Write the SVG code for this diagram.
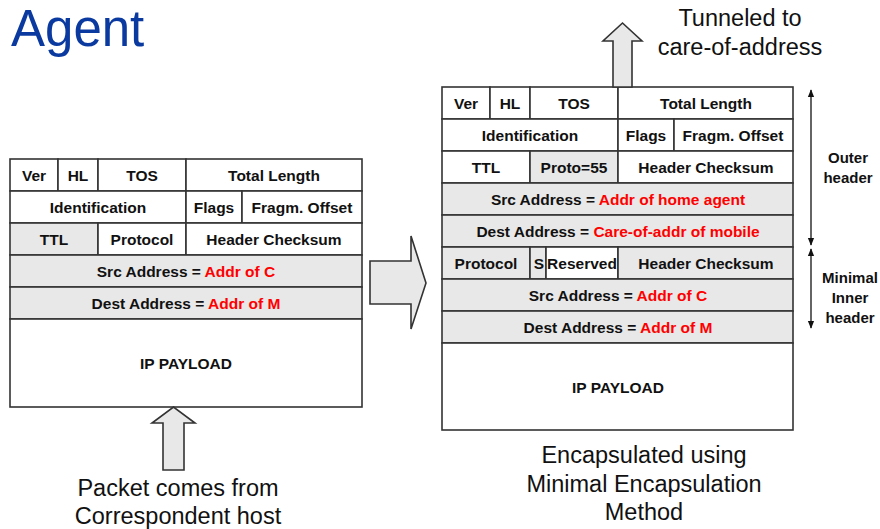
<svg xmlns="http://www.w3.org/2000/svg" width="880" height="529" viewBox="0 0 880 529">
<defs>
<style>
.c{stroke:#333;stroke-width:1.6;fill:#fff}
.g{stroke:#333;stroke-width:1.6;fill:#e8e8e8}
.t{font-family:"Liberation Sans",Arial,sans-serif;font-weight:bold;font-size:15.5px;fill:#111;text-anchor:middle}
.r{fill:#ff0000}
.l{font-family:"Liberation Sans",Arial,sans-serif;font-size:23.5px;fill:#111;text-anchor:middle}
.s{font-family:"Liberation Sans",Arial,sans-serif;font-weight:bold;font-size:15px;fill:#111;text-anchor:middle}
.ba{stroke:#333;stroke-width:1.6;fill:#e8e8e8;stroke-linejoin:miter}
</style>
<marker id="ah" viewBox="0 0 10 10" refX="9" refY="5" markerWidth="8" markerHeight="8" orient="auto-start-reverse" markerUnits="userSpaceOnUse">
<path d="M0,1 L10,5 L0,9 Z" fill="#111"/>
</marker>
</defs>
<rect width="880" height="529" fill="#fff"/>
<text x="11" y="46" font-family="'Liberation Sans',Arial,sans-serif" font-size="51" fill="#0a3aa0">Agent</text>

<g id="original-packet">
<rect class="c" x="10" y="159" width="48" height="32"/>
<rect class="c" x="58" y="159" width="40" height="32"/>
<rect class="c" x="98" y="159" width="88" height="32"/>
<rect class="c" x="186" y="159" width="176" height="32"/>
<rect class="c" x="10" y="191" width="176" height="32"/>
<rect class="c" x="186" y="191" width="56" height="32"/>
<rect class="c" x="242" y="191" width="120" height="32"/>
<rect class="g" x="10" y="223" width="88" height="32"/>
<rect class="c" x="98" y="223" width="88" height="32"/>
<rect class="c" x="186" y="223" width="176" height="32"/>
<rect class="g" x="10" y="255" width="352" height="32"/>
<rect class="g" x="10" y="287" width="352" height="32"/>
<rect class="c" x="10" y="319" width="352" height="88"/>
<text class="t" x="34" y="181">Ver</text>
<text class="t" x="78" y="181">HL</text>
<text class="t" x="142" y="181">TOS</text>
<text class="t" x="274" y="181">Total Length</text>
<text class="t" x="98" y="213">Identification</text>
<text class="t" x="214" y="213">Flags</text>
<text class="t" x="302" y="213">Fragm. Offset</text>
<text class="t" x="54" y="245">TTL</text>
<text class="t" x="142" y="245">Protocol</text>
<text class="t" x="274" y="245">Header Checksum</text>
<text class="t" x="186" y="277">Src Address = <tspan class="r">Addr of C</tspan></text>
<text class="t" x="186" y="309">Dest Address = <tspan class="r">Addr of M</tspan></text>
<text class="t" x="186" y="369">IP PAYLOAD</text>
</g>

<g id="encapsulated-packet">
<rect class="c" x="442" y="87" width="48" height="32"/>
<rect class="c" x="490" y="87" width="40" height="32"/>
<rect class="c" x="530" y="87" width="88" height="32"/>
<rect class="c" x="618" y="87" width="175" height="32"/>
<rect class="c" x="442" y="119" width="176" height="32"/>
<rect class="c" x="618" y="119" width="56" height="32"/>
<rect class="c" x="674" y="119" width="119" height="32"/>
<rect class="c" x="442" y="151" width="88" height="32"/>
<rect class="g" x="530" y="151" width="88" height="32"/>
<rect class="c" x="618" y="151" width="175" height="32"/>
<rect class="g" x="442" y="183" width="351" height="32"/>
<rect class="g" x="442" y="215" width="351" height="32"/>
<rect class="g" x="442" y="247" width="88" height="32"/>
<rect class="g" x="530" y="247" width="16" height="32"/>
<rect class="c" x="546" y="247" width="72" height="32"/>
<rect class="g" x="618" y="247" width="175" height="32"/>
<rect class="g" x="442" y="279" width="351" height="32"/>
<rect class="g" x="442" y="311" width="351" height="32"/>
<rect class="c" x="442" y="343" width="351" height="87"/>
<text class="t" x="466" y="109">Ver</text>
<text class="t" x="510" y="109">HL</text>
<text class="t" x="574" y="109">TOS</text>
<text class="t" x="706" y="109">Total Length</text>
<text class="t" x="530" y="141">Identification</text>
<text class="t" x="646" y="141">Flags</text>
<text class="t" x="733" y="141">Fragm. Offset</text>
<text class="t" x="486" y="173">TTL</text>
<text class="t" x="574" y="173">Proto=55</text>
<text class="t" x="706" y="173">Header Checksum</text>
<text class="t" x="618" y="205">Src Address = <tspan class="r">Addr of home agent</tspan></text>
<text class="t" x="618" y="237">Dest Address = <tspan class="r">Care-of-addr of mobile</tspan></text>
<text class="t" x="486" y="269">Protocol</text>
<text class="t" x="539" y="269">S</text>
<text class="t" x="582" y="269">Reserved</text>
<text class="t" x="706" y="269">Header Checksum</text>
<text class="t" x="618" y="301">Src Address = <tspan class="r">Addr of C</tspan></text>
<text class="t" x="618" y="333">Dest Address = <tspan class="r">Addr of M</tspan></text>
<text class="t" x="618" y="393">IP PAYLOAD</text>
</g>

<g id="connectors">
<polygon class="ba" points="370,261 411,261 411,236 426,283 411,329 411,304 370,304"/>
<polygon class="ba" points="613,87 613,41 603,41 622.5,23 642,41 632,41 632,87"/>
<polygon class="ba" points="163,470 163,423 152,423 173.5,407 195,423 184,423 184,470"/>
<line x1="811" y1="90" x2="811" y2="245" stroke="#111" stroke-width="1.3" marker-start="url(#ah)" marker-end="url(#ah)"/>
<line x1="811" y1="249" x2="811" y2="328" stroke="#111" stroke-width="1.3" marker-start="url(#ah)" marker-end="url(#ah)"/>
</g>

<g id="labels">
<text class="s" x="848" y="163">Outer</text>
<text class="s" x="848" y="183">header</text>
<text class="s" x="850" y="283">Minimal</text>
<text class="s" x="850" y="303">Inner</text>
<text class="s" x="850" y="323">header</text>
<text class="l" x="740" y="26">Tunneled to</text>
<text class="l" x="740" y="55">care-of-address</text>
<text class="l" x="178" y="496">Packet comes from</text>
<text class="l" x="178" y="524">Correspondent host</text>
<text class="l" x="644" y="463">Encapsulated using</text>
<text class="l" x="644" y="492">Minimal Encapsulation</text>
<text class="l" x="644" y="520">Method</text>
</g>
</svg>
